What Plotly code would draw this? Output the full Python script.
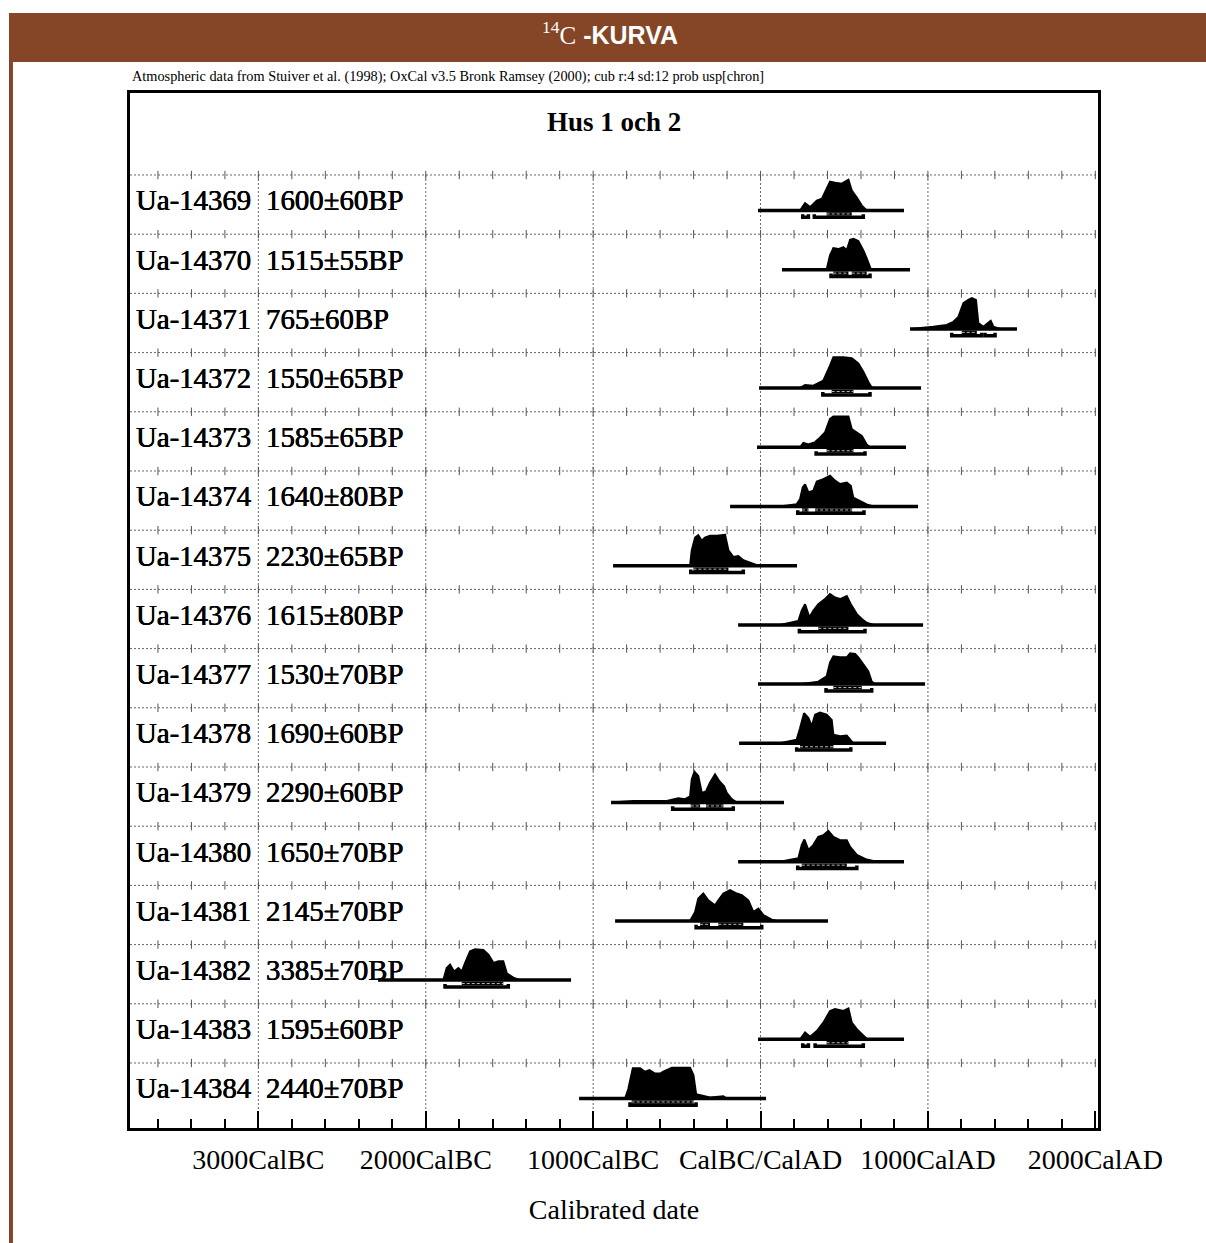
import plotly.graph_objects as go

# ---------------- data ----------------
lab_ids = ["Ua-14369", "Ua-14370", "Ua-14371", "Ua-14372", "Ua-14373", "Ua-14374",
           "Ua-14375", "Ua-14376", "Ua-14377", "Ua-14378", "Ua-14379", "Ua-14380",
           "Ua-14381", "Ua-14382", "Ua-14383", "Ua-14384"]
lab_bp = ["1600±60BP", "1515±55BP", "765±60BP", "1550±65BP", "1585±65BP", "1640±80BP",
          "2230±65BP", "1615±80BP", "1530±70BP", "1690±60BP", "2290±60BP", "1650±70BP",
          "2145±70BP", "3385±70BP", "1595±60BP", "2440±70BP"]

# calibrated year (negative = BC) and relative probability of each distribution
dist_years = [
    [236, 266, 296, 336, 366, 395, 415, 445, 485, 525, 545, 575, 605, 634],
    [395, 415, 435, 465, 495, 515, 535, 555, 584, 614, 634, 658, 674],
    [900, 953, 1032, 1112, 1152, 1182, 1212, 1241, 1262, 1287, 1301, 1331, 1361, 1375, 1391, 1431],
    [236, 266, 315, 375, 415, 435, 495, 545, 584, 614, 644, 664, 684],
    [236, 256, 286, 326, 355, 385, 415, 435, 525, 545, 575, 605, 634, 654],
    [116, 216, 236, 252, 266, 286, 315, 336, 375, 415, 445, 475, 515, 539, 554, 594, 634, 674],
    [-421, -411, -391, -372, -351, -332, -302, -262, -212, -192, -162, -133, -103, -43, -13],
    [116, 226, 246, 266, 292, 315, 345, 385, 415, 445, 475, 515, 539, 575, 605, 634, 674],
    [236, 345, 395, 415, 435, 475, 515, 535, 565, 584, 614, 644, 664, 684],
    [116, 216, 236, 260, 286, 306, 326, 355, 395, 425, 435, 475, 515, 535, 554],
    [-893, -760, -560, -491, -451, -421, -411, -395, -372, -351, -326, -302, -272, -246, -218, -202, -172, -142],
    [116, 226, 246, 262, 286, 315, 345, 375, 405, 435, 475, 515, 535, 575, 634, 694],
    [-421, -391, -372, -342, -312, -272, -252, -222, -182, -142, -112, -73, -43, -13, 17, 67, 97],
    [-1895, -1875, -1855, -1831, -1805, -1785, -1765, -1735, -1706, -1656, -1626, -1596, -1566, -1537, -1516, -1477, -1437],
    [236, 266, 296, 336, 375, 415, 445, 495, 525, 545, 575, 605, 634, 654],
    [-809, -790, -763, -720, -690, -664, -630, -600, -581, -557, -530, -421, -401, -385, -342, -302, -222, -202],
]
dist_prob = [
    [0, .24, .11, .32, .38, .74, .94, .90, .87, 1.0, .65, .42, .16, 0],
    [0, .47, .70, .67, .73, .63, .97, 1.0, .93, .63, .37, .03, 0],
    [0, .02, .07, .13, .23, .39, .84, .94, 1.0, .94, .19, .07, .19, .26, .07, 0],
    [0, .10, .08, .24, .73, 1.0, 1.0, .97, .80, .53, .20, .02, 0],
    [0, .14, .09, .17, .31, .48, .92, 1.0, 1.0, .59, .48, .37, .09, 0],
    [0, .07, .24, .62, .72, .46, .51, .81, .89, 1.0, .84, .73, .78, .67, .29, .19, .07, 0],
    [0, .50, .91, .99, .81, .91, .97, .97, 1.0, .50, .28, .31, .18, .05, 0],
    [0, .13, .46, .67, .24, .46, .67, .84, 1.0, .89, .84, .94, .67, .35, .19, .07, 0],
    [0, .08, .25, .70, .90, .87, .87, 1.0, .98, .87, .64, .41, .08, 0],
    [0, .12, .49, .98, .82, .55, .93, 1.0, .93, .76, .28, .23, .25, .12, 0],
    [0, .05, .05, .14, .11, .20, .75, 1.0, .86, .31, .36, .64, .91, .69, .53, .31, .11, 0],
    [0, .11, .54, .72, .38, .54, .81, .86, 1.0, .81, .70, .70, .48, .22, .07, 0],
    [0, .29, .73, .89, .67, .51, .67, .89, 1.0, .89, .84, .67, .29, .40, .19, .04, 0],
    [0, .39, .50, .28, .39, .28, .56, .94, 1.0, .98, .83, .56, .61, .61, .22, .08, 0],
    [0, .22, .08, .27, .54, .92, .98, .92, 1.0, .54, .33, .16, .02, 0],
    [0, .31, .98, .98, .87, .92, .81, .81, .87, .92, 1.0, 1.0, .76, .14, .07, .03, .07, 0],
]

# extent of the plotted likelihood range (baseline)
base_lo = [-15, 128, 893, -9, -21, -182, -881, -134, -15, -128, -893, -134, -869, -2285, -15, -1084]
base_hi = [857, 893, 1532, 959, 869, 941, 218, 971, 983, 750, 140, 857, 403, -1132, 857, 33]

# 95.4% and 68.2% ranges
range95 = [
    [(252, 286), (321, 614)], [(421, 654)], [(1142, 1321), (1341, 1401)], [(372, 654)],
    [(332, 624)], [(222, 618)], [(-417, -103)], [(232, 624)], [(391, 664)], [(216, 539)],
    [(-525, -163)], [(222, 575)], [(-385, 7)], [(-1885, -1507)], [(252, 286), (326, 614)],
    [(-780, -385)],
]
range68 = [
    [(395, 545)], [(435, 525), (545, 634)], [(1202, 1292)], [(425, 555)], [(395, 555)],
    [(248, 286), (326, 547)], [(-401, -192)], [(345, 525)], [(435, 605)], [(236, 435)],
    [(-417, -361), (-326, -222)], [(246, 515)], [(-361, -302), (-252, -103)], [(-1785, -1537)],
    [(395, 525)], [(-770, -400)],
]

tick_vals = [-3000, -2000, -1000, 0, 1000, 2000]
tick_text = ["3000CalBC", "2000CalBC", "1000CalBC", "CalBC/CalAD", "1000CalAD", "2000CalAD"]

# ---------------- layout constants ----------------
BROWN = "#854627"
SERIF = "Liberation Serif"
X0, X1 = -3767, 2016
Y_TOP, Y_BOT = 1.385, -16.098
BASE_OFF = 0.60
PEAK = 0.52
B95 = 0.115
B68 = 0.058
CAP = 0.05
n = len(lab_ids)
HEAVY = "0.35px 0px 0px black, -0.2px 0px 0px black"

fig = go.Figure()

# horizontal dotted row separators
gx, gy = [], []
for i in range(n):
    gx += [X0, X1, None]
    gy += [-i, -i, None]
fig.add_trace(go.Scatter(x=gx, y=gy, mode="lines", hoverinfo="skip", showlegend=False,
                         line=dict(color="#666", width=1, dash="2px,2px")))
# vertical dotted lines at each 1000 years
vx, vy = [], []
for v in tick_vals[:-1]:
    vx += [v, v, None]
    vy += [0, Y_BOT, None]
fig.add_trace(go.Scatter(x=vx, y=vy, mode="lines", hoverinfo="skip", showlegend=False,
                         line=dict(color="#666", width=1, dash="2px,2px")))
# small tick crosses on the row separators every 200 years
cx, cy = [], []
for i in range(n):
    for yr in range(-3600, 2001, 200):
        cx.append(yr)
        cy.append(-i)
fig.add_trace(go.Scatter(x=cx, y=cy, mode="markers", hoverinfo="skip", showlegend=False,
                         marker=dict(symbol="line-ns", size=6, line=dict(color="#555", width=1))))

# baselines
bx, by = [], []
for i in range(n):
    yb = -i - BASE_OFF
    bx += [base_lo[i], base_hi[i], None]
    by += [yb, yb, None]
fig.add_trace(go.Scatter(x=bx, y=by, mode="lines", hoverinfo="skip", showlegend=False,
                         line=dict(color="black", width=3.5)))

# distributions
for i in range(n):
    yb = -i - BASE_OFF
    ys = [yb + p * PEAK for p in dist_prob[i]]
    fig.add_trace(go.Scatter(x=dist_years[i], y=ys, mode="lines", fill="toself",
                             fillcolor="black", line=dict(color="black", width=2),
                             name=lab_ids[i], showlegend=False))

# range brackets
rx, ry = [], []
for i in range(n):
    yr_ = -i - BASE_OFF - B95
    for a, b in range95[i]:
        rx += [a, a, b, b, None]
        ry += [yr_ + CAP, yr_, yr_, yr_ + CAP, None]
fig.add_trace(go.Scatter(x=rx, y=ry, mode="lines", hoverinfo="skip", showlegend=False,
                         line=dict(color="black", width=3.5)))
sx, sy = [], []
for i in range(n):
    ys_ = -i - BASE_OFF - B68
    for a, b in range68[i]:
        sx += [a, b, None]
        sy += [ys_, ys_, None]
fig.add_trace(go.Scatter(x=sx, y=sy, mode="lines", hoverinfo="skip", showlegend=False,
                         line=dict(color="black", width=3.5)))
# faint inner streak of the 68% range
fig.add_trace(go.Scatter(x=sx, y=sy, mode="lines", hoverinfo="skip", showlegend=False,
                         line=dict(color="#bbbbbb", width=1, dash="3px,2px")))

# row labels
annotations = []
for i in range(n):
    annotations.append(dict(x=-3745, y=-i - 0.43, xref="x", yref="y", text=lab_ids[i],
                            showarrow=False, xanchor="left", yanchor="middle",
                            font=dict(family=SERIF, size=28.8, color="black", shadow=HEAVY)))
    annotations.append(dict(x=-2966, y=-i - 0.43, xref="x", yref="y", text=lab_bp[i],
                            showarrow=False, xanchor="left", yanchor="middle",
                            font=dict(family=SERIF, size=28.8, color="black", shadow=HEAVY)))

annotations.append(dict(x=0.5, y=0.972, xref="paper", yref="paper", text="<b>Hus 1 och 2</b>",
                        showarrow=False, xanchor="center", yanchor="middle",
                        font=dict(family=SERIF, size=27, color="black")))
annotations.append(dict(x=0, y=1.0155, xref="paper", yref="paper",
                        text="Atmospheric data from Stuiver et al. (1998); OxCal v3.5 Bronk Ramsey (2000); cub r:4 sd:12 prob usp[chron]",
                        showarrow=False, xanchor="left", yanchor="middle",
                        font=dict(family=SERIF, size=14.3, color="black")))
annotations.append(dict(x=0.4959, y=1.0575, xref="paper", yref="paper",
                        text='<span style="font-family:Liberation Serif"><sup>14</sup>C</span> <b>-KURVA</b>',
                        showarrow=False, xanchor="center", yanchor="middle",
                        font=dict(family="Liberation Sans", size=25, color="white")))

shapes = [
    dict(type="rect", xref="paper", yref="paper", x0=-0.125, x1=1.1116, y0=1.02995, y1=1.07729,
         fillcolor=BROWN, line=dict(width=0), layer="below"),
    dict(type="rect", xref="paper", yref="paper", x0=-0.125, x1=-0.1209, y0=-0.12, y1=1.031,
         fillcolor=BROWN, line=dict(width=0), layer="below"),
]

fig.update_layout(
    width=1206, height=1243,
    margin=dict(l=130, r=108, t=93, b=115),
    paper_bgcolor="white", plot_bgcolor="white",
    showlegend=False,
    annotations=annotations, shapes=shapes,
    xaxis=dict(range=[X0, X1], tickmode="array", tickvals=tick_vals, ticktext=tick_text,
               ticks="inside", ticklen=17, tickwidth=2, tickcolor="black",
               minor=dict(ticks="inside", ticklen=9, tickwidth=2, tickcolor="black",
                          tickmode="linear", tick0=0, dtick=200),
               showline=True, linewidth=3, linecolor="black", mirror=True,
               showgrid=False, zeroline=False, ticklabelstandoff=4,
               tickfont=dict(family=SERIF, size=28, color="black"),
               title=dict(text="Calibrated date", standoff=26,
                          font=dict(family=SERIF, size=28, color="black"))),
    yaxis=dict(range=[Y_BOT, Y_TOP], showticklabels=False, ticks="", showgrid=False,
               zeroline=False, showline=True, linewidth=3, linecolor="black", mirror=True),
)

fig.write_html("out.html")
